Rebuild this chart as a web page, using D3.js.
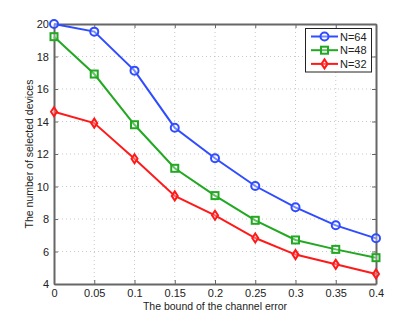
<!DOCTYPE html>
<html><head><meta charset="utf-8">
<script src="https://cdn.jsdelivr.net/npm/d3@7"></script>
<style>body{margin:0;background:#fff}svg{display:block}text{font-family:"Liberation Sans",Arial,sans-serif}</style>
</head><body><svg id="c" width="415" height="319"></svg>
<script>
const xValues = [0, 0.05, 0.1, 0.15, 0.2, 0.25, 0.3, 0.35, 0.4];
const n64 = [20, 19.53, 17.13, 13.62, 11.74, 10.03, 8.72, 7.61, 6.81];
const n48 = [19.22, 16.92, 13.8, 11.12, 9.44, 7.92, 6.71, 6.13, 5.62];
const n32 = [14.6, 13.9, 11.71, 9.42, 8.23, 6.83, 5.81, 5.21, 4.62];
const seriesNames = ["N=64", "N=48", "N=32"];
const xTicks = [0, 0.05, 0.1, 0.15, 0.2, 0.25, 0.3, 0.35, 0.4];
const yTicks = [4, 6, 8, 10, 12, 14, 16, 18, 20];

const series = [
  {name: seriesNames[0], values: n64, color: "#2f4cff", marker: "circle"},
  {name: seriesNames[1], values: n48, color: "#22a822", marker: "square"},
  {name: seriesNames[2], values: n32, color: "#ff1a1a", marker: "diamond"}
];
const svg = d3.select("#c");
const L = 54, R = 376, T = 24, B = 284;
const x = d3.scaleLinear().domain([0, 0.4]).range([L, R]);
const y = d3.scaleLinear().domain([4, 20]).range([B, T]);
const axisCol = "#666";

// grid
const g = svg.append("g");
xTicks.slice(1, -1).forEach(t => g.append("line").attr("x1", x(t)).attr("x2", x(t)).attr("y1", T).attr("y2", B)
  .attr("stroke", "#bbb").attr("stroke-width", 0.8).attr("stroke-dasharray", "1,3"));
yTicks.slice(1, -1).forEach(t => g.append("line").attr("x1", L).attr("x2", R).attr("y1", y(t)).attr("y2", y(t))
  .attr("stroke", "#bbb").attr("stroke-width", 0.8).attr("stroke-dasharray", "1,3"));

// axes
const fmt = d => d === 0 ? "0" : String(d);
const ax = svg.append("g").attr("transform", `translate(0,${B})`).call(d3.axisBottom(x).tickValues(xTicks).tickFormat(fmt).tickSizeInner(-4).tickSizeOuter(0).tickPadding(5));
const axT = svg.append("g").attr("transform", `translate(0,${T})`).call(d3.axisTop(x).tickValues(xTicks).tickFormat("").tickSizeInner(-4).tickSizeOuter(0));
const ay = svg.append("g").attr("transform", `translate(${L},0)`).call(d3.axisLeft(y).tickValues(yTicks).tickSizeInner(-4).tickSizeOuter(0).tickPadding(5));
const ayR = svg.append("g").attr("transform", `translate(${R},0)`).call(d3.axisRight(y).tickValues(yTicks).tickFormat("").tickSizeInner(-4).tickSizeOuter(0));
[ax, axT, ay, ayR].forEach(a => {
  a.selectAll(".domain").attr("stroke", axisCol).attr("stroke-width", 2);
  a.selectAll(".tick line").attr("stroke", axisCol).attr("stroke-width", 1);
  a.selectAll("text").attr("font-size", 11).attr("fill", "#222").attr("font-family", "Liberation Sans, Arial, sans-serif");
});

// labels
svg.append("text").attr("x", (L + R) / 2).attr("y", 310).attr("text-anchor", "middle").attr("font-size", 10.5).attr("fill", "#222").text("The bound of the channel error");
svg.append("text").attr("transform", `translate(33,${(T + B) / 2}) rotate(-90)`).attr("text-anchor", "middle").attr("font-size", 10.5).attr("fill", "#222").text("The number of selected devices");

function marker(sel, type, color) {
  if (type === "circle") sel.append("circle").attr("r", 4).attr("fill", "rgba(255,255,255,0.35)").attr("stroke", color).attr("stroke-width", 2);
  else if (type === "square") sel.append("rect").attr("x", -3.5).attr("y", -3.5).attr("width", 7).attr("height", 7).attr("fill", "rgba(255,255,255,0.3)").attr("stroke", color).attr("stroke-width", 2);
  else sel.append("path").attr("d", "M0,-4.5L3,0L0,4.5L-3,0Z").attr("fill", "rgba(255,255,255,0.3)").attr("stroke", color).attr("stroke-width", 2);
}

const line = d3.line().x((d, i) => x(xValues[i])).y(d => y(d));
series.forEach(s => {
  svg.append("path").datum(s.values).attr("d", line).attr("fill", "none").attr("stroke", s.color).attr("stroke-width", 2);
  s.values.forEach((v, i) => {
    const m = svg.append("g").attr("transform", `translate(${x(xValues[i])},${y(v)})`);
    marker(m, s.marker, s.color);
  });
});

// legend
const lg = svg.append("g");
lg.append("rect").attr("x", 305.5).attr("y", 28.5).attr("width", 66).attr("height", 43.5).attr("fill", "#fff").attr("stroke", "#222").attr("stroke-width", 1);
series.forEach((s, i) => {
  const yy = 36.5 + i * 13.7;
  lg.append("line").attr("x1", 311).attr("x2", 338).attr("y1", yy).attr("y2", yy).attr("stroke", s.color).attr("stroke-width", 2);
  const m = lg.append("g").attr("transform", `translate(324.5,${yy})`);
  marker(m, s.marker, s.color);
  lg.append("text").attr("x", 340).attr("y", yy + 4).attr("font-size", 11).attr("fill", "#222").text(s.name);
});
</script></body></html>
